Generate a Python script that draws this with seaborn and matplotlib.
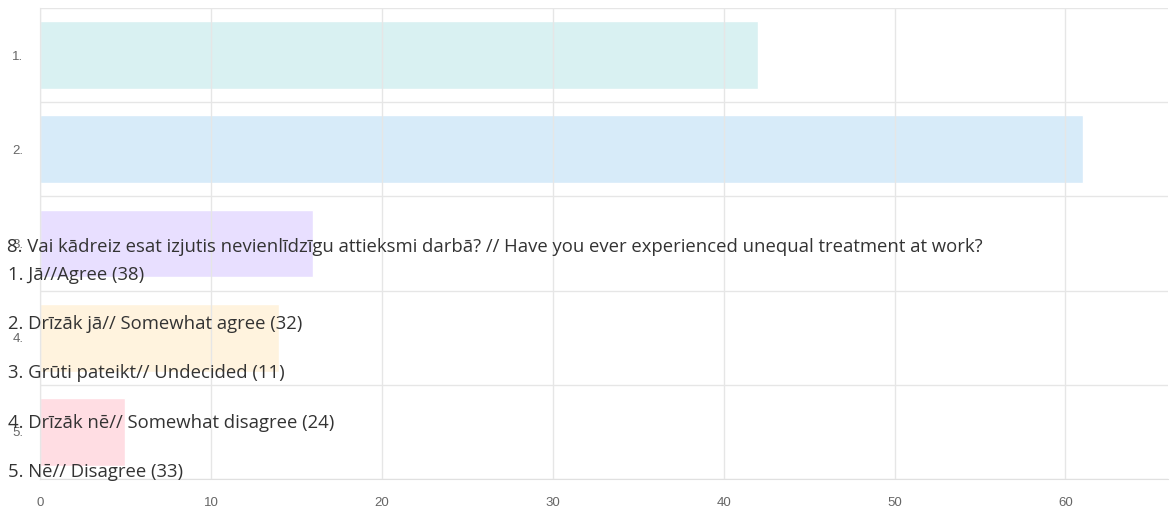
import numpy as np
import pandas as pd
import seaborn as sns
import matplotlib.pyplot as plt

# chart values
categories = ['1.', '2.', '3.', '4.', '5.']
counts = [42, 61, 16, 14, 5]
bar_colors = ['#d9f1f2', '#d7ebf9', '#e8dfff', '#fff3de', '#ffdde3']

title = '8. Vai kādreiz esat izjutis nevienlīdzīgu attieksmi darbā? // Have you ever experienced unequal treatment at work?'
answers = ['1. Jā//Agree (38)',
           '2. Drīzāk jā// Somewhat agree (32)',
           '3. Grūti pateikt// Undecided (11)',
           '4. Drīzāk nē// Somewhat disagree (24)',
           '5. Nē// Disagree (33)']

df = pd.DataFrame({'answer': categories, 'count': counts})

sns.set_style('white')
plt.rcParams['font.family'] = ['Liberation Sans', 'DejaVu Sans']

W, H = 1174, 513
fig = plt.figure(figsize=(W / 100, H / 100), dpi=100)
ax = fig.add_axes([40 / W, (H - 479) / H, (1168 - 40) / W, (479 - 8) / H])

sns.barplot(data=df, x='count', y='answer', hue='answer', palette=bar_colors,
            orient='h', width=0.72, legend=False, saturation=1, ax=ax)

grid_c = '#e6e6e6'
ax.set_xlim(0, 66)
ax.set_ylim(4.5, -0.5)
ax.set_xticks(np.arange(0, 61, 10))
ax.set_yticks(np.arange(-0.5, 5, 1), minor=True)
ax.grid(axis='x', which='major', color=grid_c, lw=1)
ax.grid(axis='y', which='minor', color=grid_c, lw=1)
ax.set_axisbelow(False)
for b in ax.patches:
    b.set_zorder(0.5)

ax.tick_params(axis='y', which='major', length=0, pad=12, labelsize=9.5, labelcolor='#666666')
ax.tick_params(axis='y', which='minor', length=10, color=grid_c, width=1)
ax.tick_params(axis='x', which='major', length=10, color=grid_c, width=1,
               labelsize=9.5, labelcolor='#666666', pad=3)
for s in ['top', 'right']:
    ax.spines[s].set_visible(False)
ax.spines['left'].set_color('#d0d0d0')
ax.spines['bottom'].set_color('#e0e0e0')
ax.set_xlabel('')
ax.set_ylabel('')

# overlapping text block
txt_kw = dict(family=['Open Sans', 'DejaVu Sans'], fontsize=13.3, color='#333333',
              va='center', ha='left')
fig.text(7 / W, 1 - 247 / H, title, **txt_kw)
line_y = [275, 324, 373, 423, 472]
for lbl, yy in zip(answers, line_y):
    fig.text(8 / W, 1 - yy / H, lbl, **txt_kw)

fig.savefig('out.png', dpi=100)
